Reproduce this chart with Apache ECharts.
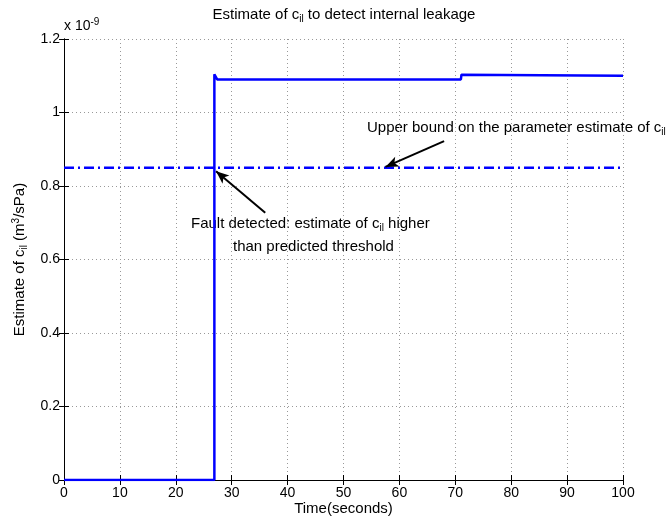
<!DOCTYPE html>
<html>
<head>
<meta charset="utf-8">
<script src="https://cdn.jsdelivr.net/npm/echarts@6/dist/echarts.min.js"></script>
<style>
  html, body { margin: 0; padding: 0; background: #fff; }
  #chart { width: 666px; height: 517px; }
</style>
</head>
<body>
<div id="chart"></div>
<script>
// estimate of c_il, values in units of 1e-9 m^3/sPa
const timeSec = [0, 26.9, 26.9, 27.2, 27.4, 71.0, 71.1, 71.4, 100];
const estimate = [0, 0, 1.104, 1.102, 1.09, 1.09, 1.103, 1.10, 1.10];
const thresholdT = [0, 100];
const threshold = [0.85, 0.85];
const xTicks = [0, 10, 20, 30, 40, 50, 60, 70, 80, 90, 100];
const yTicks = [0, 0.2, 0.4, 0.6, 0.8, 1, 1.2];

// arrow annotations [tail, head] in data units
const faultArrow = [[36.0, 0.727], [27.2, 0.840]];
const boundArrow = [[68.0, 0.922], [57.5, 0.852]];

const font = 'Liberation Sans, Arial, Helvetica, sans-serif';
const chart = echarts.init(document.getElementById('chart'));

const rich = {
  n: { fontSize: 15, fontFamily: font, color: '#000', fontWeight: 'normal', lineHeight: 18 },
  sub: { fontSize: 10, fontFamily: font, color: '#000', fontWeight: 'normal', lineHeight: 6, verticalAlign: 'bottom' },
  sup: { fontSize: 10, fontFamily: font, color: '#000', fontWeight: 'normal', lineHeight: 6, verticalAlign: 'top' }
};

function pairs(xs, ys) {
  return xs.map((x, i) => [x, ys[i]]);
}

function note(x, y, text) {
  return {
    type: 'text', x: x, y: y,
    style: { text: text, rich: rich, verticalAlign: 'middle', align: 'left' }
  };
}

const axisBase = {
  type: 'value',
  nameMoveOverlap: false,
  axisLine: { show: true, lineStyle: { color: '#000', width: 1 } },
  axisTick: { show: true, inside: true, length: 5, lineStyle: { color: '#000' } }
};

let option = {
  animation: false,
  backgroundColor: '#fff',
  grid: { left: 64, right: 43, top: 39, bottom: 37, outerBoundsMode: 'none', containLabel: false },
  xAxis: [
    Object.assign({}, axisBase, {
      min: 0, max: 100, interval: 10,
      name: 'Time(seconds)',
      nameLocation: 'middle',
      nameGap: 21,
      nameTextStyle: { fontSize: 15, fontFamily: font, color: '#000' },
      axisLabel: { fontSize: 14, fontFamily: font, color: '#000', margin: 6,
        formatter: v => xTicks.includes(v) ? String(v) : '' },
      splitLine: { show: true, lineStyle: { color: '#999', type: [1, 3], width: 1 } }
    }),
    Object.assign({}, axisBase, {
      position: 'top', min: 0, max: 100, interval: 10,
      axisLabel: { show: false }, splitLine: { show: false }
    })
  ],
  yAxis: [
    Object.assign({}, axisBase, {
      min: 0, max: 1.2, interval: 0.2,
      name: '{n|Estimate of c}{sub|il}{n| (m}{sup|3}{n|/sPa)}',
      nameLocation: 'middle',
      nameRotate: 90,
      nameGap: 35,
      nameTextStyle: { rich: rich },
      axisLabel: { fontSize: 14, fontFamily: font, color: '#000', margin: 4,
        formatter: v => {
          const t = yTicks.find(y => Math.abs(y - v) < 1e-6);
          return t === undefined ? '' : String(t);
        } },
      splitLine: { show: true, lineStyle: { color: '#999', type: [1, 3], width: 1 } }
    }),
    Object.assign({}, axisBase, {
      position: 'right', min: 0, max: 1.2, interval: 0.2,
      axisLabel: { show: false }, splitLine: { show: false }
    })
  ],
  graphic: [
    {
      type: 'text', x: 344, y: 15,
      style: { text: '{n|Estimate of c}{sub|il}{n| to detect internal leakage}',
        rich: rich, align: 'center', verticalAlign: 'middle' }
    },
    {
      type: 'text', x: 64, y: 26,
      style: { text: '{a|x 10}{b|-9}', verticalAlign: 'middle', rich: {
        a: { fontSize: 14, fontFamily: font, fill: '#000', lineHeight: 18 },
        b: { fontSize: 10, fontFamily: font, fill: '#000', lineHeight: 6, verticalAlign: 'top' }
      } }
    },
    note(367, 128, '{n|Upper bound on the parameter estimate of c}{sub|il}'),
    note(191, 224, '{n|Fault detected: estimate of c}{sub|il}{n| higher}'),
    note(233, 247, '{n|than predicted threshold}')
  ],
  series: [
    {
      name: 'estimate',
      type: 'line',
      data: pairs(timeSec, estimate),
      showSymbol: false,
      lineStyle: { color: '#0000ff', width: 2.5 },
      z: 3
    },
    {
      name: 'threshold',
      type: 'line',
      data: pairs(thresholdT, threshold),
      showSymbol: false,
      lineStyle: { color: '#0000ff', width: 2.5, type: [10, 4, 2, 4] },
      z: 3,
      markLine: {
        silent: true,
        symbol: ['none', 'arrow'],
        symbolSize: [8, 13],
        label: { show: false },
        lineStyle: { color: '#000', width: 2, type: 'solid' },
        data: [
          [{ coord: faultArrow[0] }, { coord: faultArrow[1] }],
          [{ coord: boundArrow[0] }, { coord: boundArrow[1] }]
        ]
      }
    }
  ]
};
chart.setOption(option);
</script>
</body>
</html>
